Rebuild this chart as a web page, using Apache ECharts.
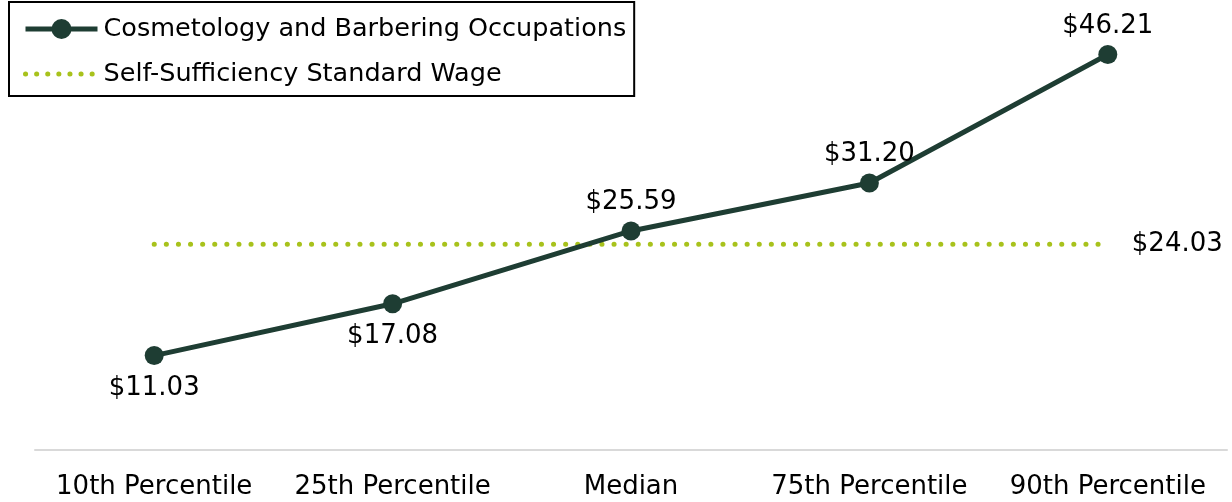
<!DOCTYPE html>
<html>
<head>
<meta charset="utf-8">
<script src="https://cdn.jsdelivr.net/npm/echarts@6/dist/echarts.min.js"></script>
<style>
  html, body { margin: 0; padding: 0; background: #fff; }
  #main { width: 1232px; height: 502px; }
</style>
</head>
<body>
<div id="main"></div>
<script>
// 图表数据
var categories = ['10th Percentile', '25th Percentile', 'Median', '75th Percentile', '90th Percentile'];
var wages = [11.03, 17.08, 25.59, 31.20, 46.21];
var standardWage = [24.03, 24.03, 24.03, 24.03, 24.03];
var labelBelow = [true, true, false, false, false];

var fontFam = '"DejaVu Sans", sans-serif';
var myChart = echarts.init(document.getElementById('main'));

var wageData = wages.map(function (v, i) {
  return {
    value: v,
    label: { position: labelBelow[i] ? 'bottom' : 'top', distance: labelBelow[i] ? 10 : 6 }
  };
});

var dotted = [0.1, 11];

var option = {
  animation: false,
  textStyle: { fontFamily: fontFam },
  legend: {
    orient: 'vertical',
    left: 9,
    top: 2,
    padding: [12, 8, 7, 14],
    itemGap: 15,
    itemWidth: 72,
    itemHeight: 25,
    borderColor: '#000',
    borderWidth: 2,
    backgroundColor: '#fff',
    textStyle: { fontSize: 25.5, lineHeight: 30, color: '#000', fontFamily: fontFam, padding: [0, 0, 0, 1] },
    data: [
      { name: 'Cosmetology and Barbering Occupations', lineStyle: { width: 5 } },
      { name: 'Self-Sufficiency Standard Wage', itemStyle: { opacity: 0 },
        lineStyle: { width: 5, type: dotted, cap: 'round' } }
    ]
  },
  grid: { left: 35, right: 5, top: 22, bottom: 52 },
  xAxis: {
    type: 'category',
    data: categories,
    axisLine: { lineStyle: { color: '#d9d9d9', width: 2 } },
    axisTick: { show: false },
    axisLabel: { fontSize: 26, color: '#000', margin: 24, interval: 0, fontFamily: fontFam }
  },
  yAxis: {
    type: 'value',
    min: 0,
    max: 50,
    show: false,
    splitLine: { show: false }
  },
  series: [
    {
      name: 'Self-Sufficiency Standard Wage',
      type: 'line',
      data: standardWage,
      symbol: 'none',
      lineStyle: { color: '#a8c21c', width: 5, type: [0.1, 12], cap: 'round' },
      itemStyle: { color: '#a8c21c' },
      endLabel: {
        show: true,
        distance: 24,
        fontSize: 26,
        color: '#000',
        formatter: function (p) { return '$' + p.value.toFixed(2); }
      },
      z: 1
    },
    {
      name: 'Cosmetology and Barbering Occupations',
      type: 'line',
      data: wageData,
      symbol: 'circle',
      symbolSize: 19,
      lineStyle: { color: '#1e3d33', width: 5 },
      itemStyle: { color: '#1e3d33' },
      label: {
        show: true,
        fontSize: 26,
        color: '#000',
        formatter: function (p) { return '$' + p.value.toFixed(2); }
      },
      z: 2
    }
  ]
};

option && myChart.setOption(option);
</script>
</body>
</html>
